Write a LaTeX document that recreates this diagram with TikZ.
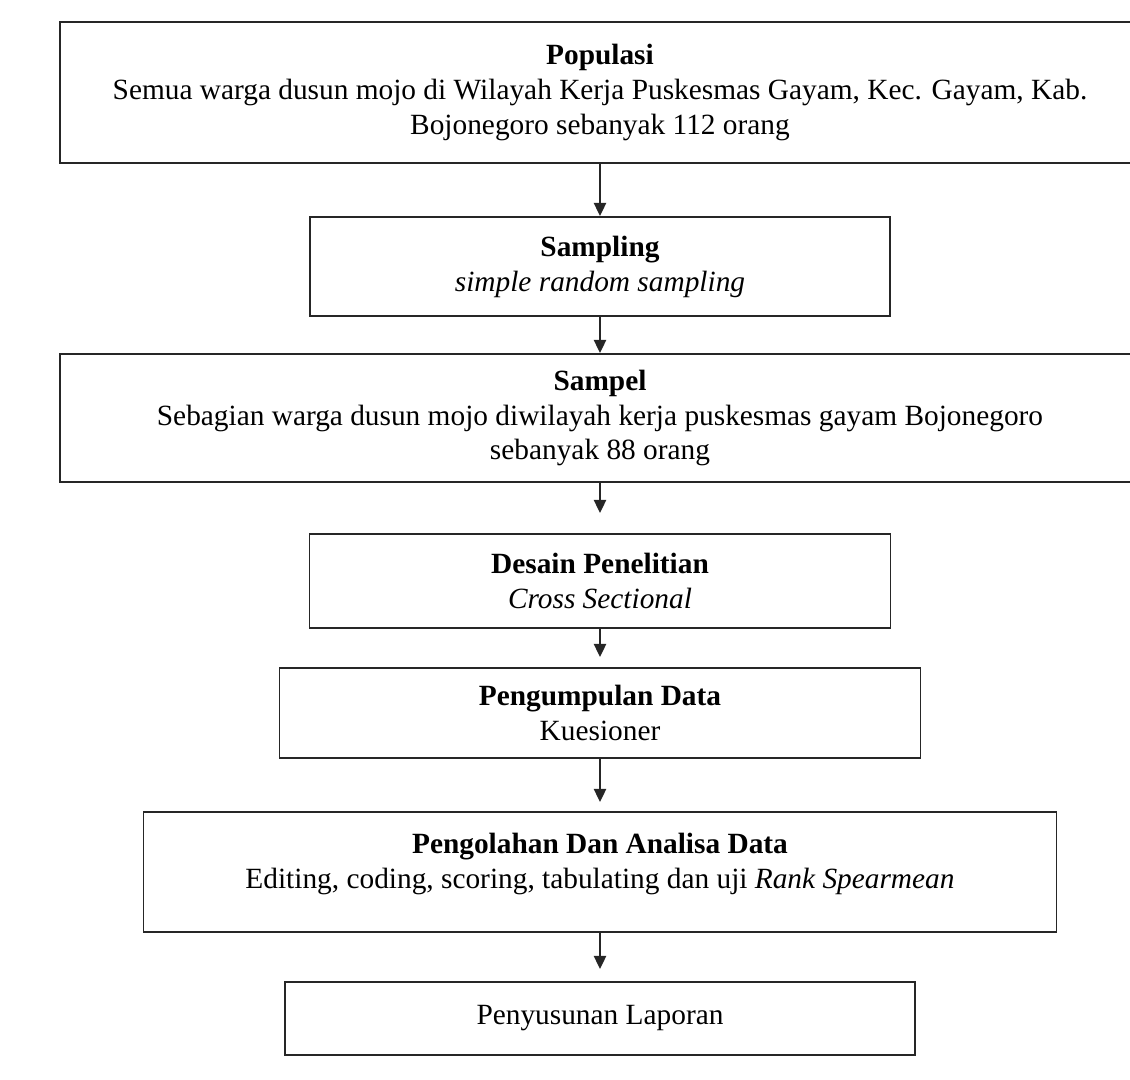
\documentclass[tikz,border=0pt]{standalone}
\usepackage{fontspec}
\setmainfont{Liberation Serif}
\usetikzlibrary{arrows.meta}

\begin{document}
\begin{tikzpicture}[
 x=1cm,y=1cm,font=\fontsize{16.7}{19.9}\selectfont,
 box/.style={draw=black!85,line width=1.1pt,fill=white,align=center,inner sep=0pt},
 flow/.style={-{Triangle[length=7.5pt,width=7pt]},line width=1pt,draw=black!85}]
\useasboundingbox (0,0) rectangle (22.6,21.58);
\node[box,minimum width=21.6cm,minimum height=2.82cm] (populasi) at (12,19.73)
 {\textbf{Populasi}\\Semua warga dusun mojo di Wilayah Kerja Puskesmas Gayam, Kec. Gayam, Kab.\\Bojonegoro sebanyak 112 orang};
\node[box,minimum width=11.6cm,minimum height=1.98cm] (sampling) at (12,16.25)
 {\textbf{Sampling}\\\textit{simple random sampling}};
\node[box,minimum width=21.6cm,minimum height=2.56cm] (sampel) at (12,13.22)
 {\textbf{Sampel}\\Sebagian warga dusun mojo diwilayah kerja puskesmas gayam Bojonegoro\\sebanyak 88 orang};
\node[box,minimum width=11.62cm,minimum height=1.88cm] (desain) at (12,9.96)
 {\textbf{Desain Penelitian}\\\textit{Cross Sectional}};
\node[box,minimum width=12.82cm,minimum height=1.8cm] (kumpul) at (12,7.32)
 {\textbf{Pengumpulan Data}\\Kuesioner};
\node[box,minimum width=18.26cm,minimum height=2.4cm,text depth=13pt] (olah) at (12,4.14)
 {\textbf{Pengolahan Dan Analisa Data}\\Editing, coding, scoring, tabulating dan uji \textit{Rank Spearmean}};
\node[box,minimum width=12.6cm,minimum height=1.46cm] (laporan) at (12,1.21)
 {Penyusunan Laporan};
\draw[flow] (populasi) -- (sampling);
\draw[flow] (sampling) -- (sampel);
\draw[flow,shorten >=0.4cm] (sampel) -- (desain);
\draw[flow,shorten >=0.2cm] (desain) -- (kumpul);
\draw[flow,shorten >=0.18cm] (kumpul) -- (olah);
\draw[flow,shorten >=0.24cm] (olah) -- (laporan);
\end{tikzpicture}
\end{document}
